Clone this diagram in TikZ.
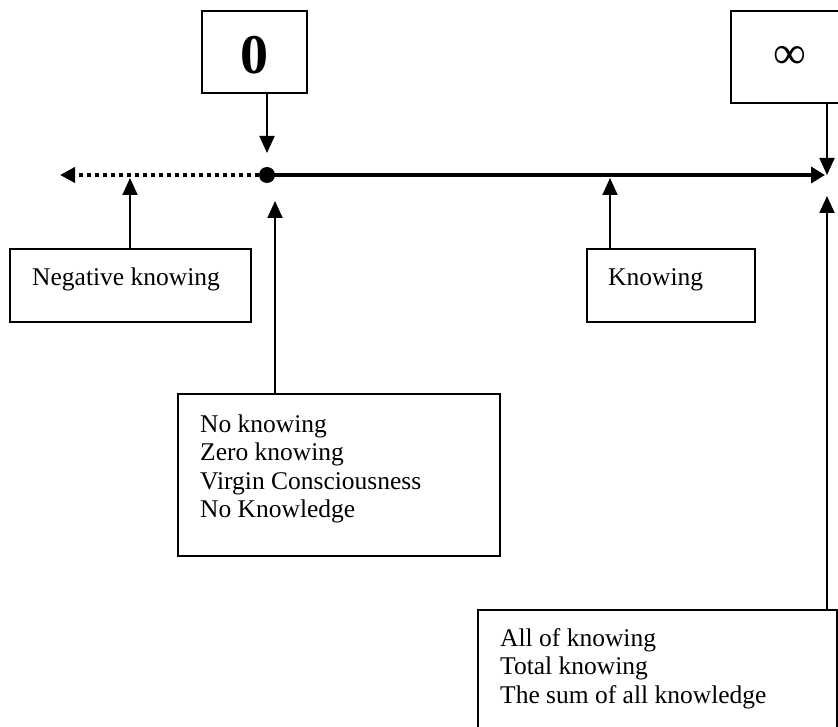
\documentclass[tikz,border=0pt]{standalone}
\usepackage{fontspec}
\setmainfont{Liberation Serif}
\usetikzlibrary{arrows.meta}
\begin{document}
\begin{tikzpicture}[x=1pt,y=-1pt,
  box/.style={draw, line width=1.7pt},
  txt/.style={font=\fontsize{25.5}{28.5}\selectfont, align=left, anchor=base west, inner sep=0pt},
  pointer/.style={line width=1.9pt, -{Triangle[length=17pt,width=15pt]}},
  axis/.style={line width=4pt},
]
\useasboundingbox (0,0) rectangle (838,727);

% value boxes at the top
\draw[box] (202,11) rectangle (307,93);
\node[font=\fontsize{56}{60}\selectfont\bfseries] (zero) at (254.5,55) {0};
\coordinate (zeroB) at (267,93);
\draw[box] (731,11) rectangle (850,103);
\node[font=\fontsize{46}{50}\selectfont] (inf) at (790,57) {∞};
\coordinate (infB) at (827,103);

% the axis: dotted to the left of the origin, solid to the right
\coordinate (origin) at (267,175);
\coordinate (leftEnd) at (60,175);
\coordinate (rightEnd) at (825,175);
\draw[axis, dash pattern=on 4pt off 4pt, -{Triangle[length=15pt,width=15pt]}] (origin) -- (leftEnd);
\draw[axis, -{Triangle[length=14pt,width=16pt]}] (origin) -- (rightEnd);
\fill (origin) circle (8pt);

\draw[pointer] (zeroB) -- (267,153);
\draw[pointer] (infB) -- (827,175);

% label boxes (multi-line texts are placed by the baseline of their last line)
\draw[box] (10,249) rectangle (251,322);
\node[txt] (neg) at (32,286) {Negative knowing};
\draw[box] (587,249) rectangle (755,322);
\node[txt] (know) at (608,286) {Knowing};
\draw[box] (178,394) rectangle (500,556);
\node[txt] (zerotxt) at (200,517.5) {No knowing\\Zero knowing\\Virgin Consciousness\\No Knowledge};
\draw[box] (478,610) rectangle (837,745);
\node[txt] (alltxt) at (500,703) {All of knowing\\Total knowing\\The sum of all knowledge};

% pointers up to the axis
\draw[pointer] (130,249) -- (130,178);
\draw[pointer] (610,249) -- (610,178);
\draw[pointer] (275,394) -- (275,201);
\draw[pointer] (827,610) -- (827,196);
\end{tikzpicture}
\end{document}
